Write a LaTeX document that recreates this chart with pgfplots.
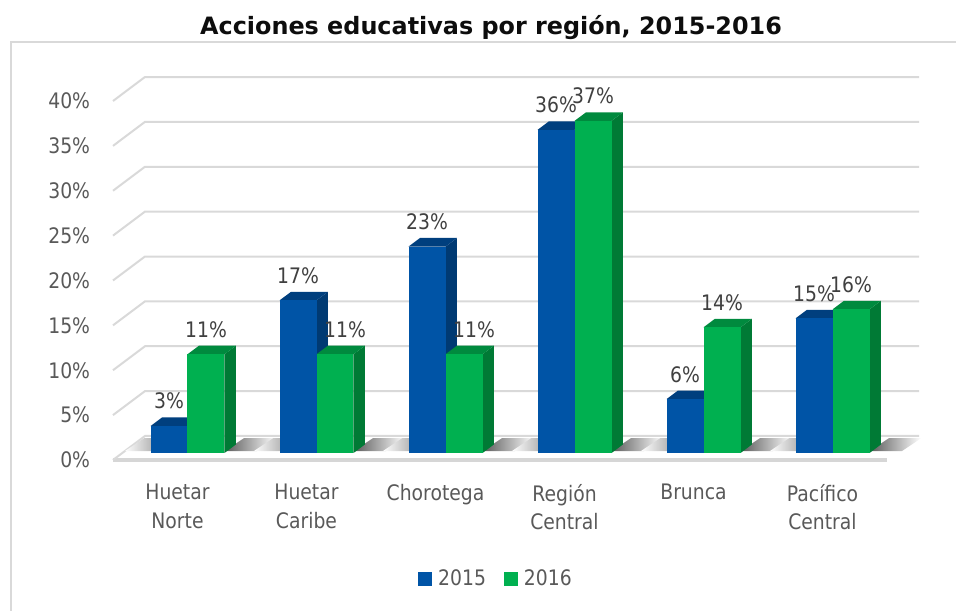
\documentclass[border=0pt]{standalone}
\usepackage{pgfplots}
\pgfplotsset{compat=1.18}
\usepackage{pgfplotstable}
\usepackage{fontspec}
\setmainfont{DejaVu Sans}
\newfontfamily\labfont{DejaVu Sans}[FakeStretch=0.88]
\definecolor{cA}{HTML}{0054A6}
\definecolor{cAtop}{HTML}{003F7E}
\definecolor{cAside}{HTML}{003A73}
\definecolor{cB}{HTML}{00B050}
\definecolor{cBtop}{HTML}{008A3E}
\definecolor{cBside}{HTML}{007A35}
\definecolor{gridc}{HTML}{D9D9D9}
\definecolor{txt}{HTML}{595959}
\definecolor{lab}{HTML}{404040}

% sh16: horizontal shift (axis units) of the 2016 label
\pgfplotstableread{
idx v15 v16 sh16
0 3 11 0
1 17 11 0.0775
2 23 11 0.0775
3 36 37 0
4 6 14 0
5 15 16 0
}\data

\def\ox{0.0775}\def\oy{0.78}\def\bw{0.2868}\def\ddx{0.0891}\def\ddy{0.958}\def\bx{0.248}\def\by{2.674}

\newcommand\barthreeD[5]{%
 \pgfmathsetmacro\xl{#1}%
 \pgfmathsetmacro\xr{\xl+\bw}%
 \pgfmathsetmacro\xlb{\xl+\ddx}%
 \pgfmathsetmacro\xrb{\xr+\ddx}%
 \pgfmathsetmacro\yt{#2+\oy}%
 \pgfmathsetmacro\ytb{\yt+\ddy}%
 \pgfmathsetmacro\ybb{\oy+\ddy}%
 \edef\tmp{%
 \noexpand\addplot[forget plot,draw=none,fill=#5] coordinates {(\xr,\oy) (\xrb,\ybb) (\xrb,\ytb) (\xr,\yt)};
 \noexpand\addplot[forget plot,draw=none,fill=#4] coordinates {(\xl,\yt) (\xr,\yt) (\xrb,\ytb) (\xlb,\ytb)};
 \noexpand\addplot[forget plot,draw=none,fill=#3] coordinates {(\xl,\oy) (\xr,\oy) (\xr,\yt) (\xl,\yt)};
 }\tmp}

\newcommand\shadowpair[1]{%
 \pgfmathsetmacro\sa{#1+\ox-\bw-0.2}%
 \pgfmathsetmacro\sb{#1+\ox-\bw+0.02}%
 \pgfmathsetmacro\sc{#1+\ox+\bw}%
 \pgfmathsetmacro\sd{#1+\ox+\bw+0.25}%
 \pgfmathsetmacro\sat{\sa+0.15}%
 \pgfmathsetmacro\sbt{\sb+0.15}%
 \pgfmathsetmacro\sct{\sc+0.15}%
 \pgfmathsetmacro\sdt{\sd+0.15}%
 \pgfmathsetmacro\ya{\oy+0.2}%
 \pgfmathsetmacro\yb{\by-0.25}%
 \edef\tmp{%
 \noexpand\addplot[forget plot,draw=none,left color=white,right color=black!50] coordinates {(\sa,\ya) (\sb,\ya) (\sbt,\yb) (\sat,\yb)};
 \noexpand\addplot[forget plot,draw=none,left color=black!65,right color=white] coordinates {(\sc,\ya) (\sd,\ya) (\sdt,\yb) (\sct,\yb)};
 }\tmp}

\begin{document}
\begin{tikzpicture}
\useasboundingbox (0,0) rectangle (717pt,457.5pt);
\draw[gridc,line width=1.5pt] (8.25pt,-2pt) -- (8.25pt,426pt) -- (720pt,426pt);
\node[font=\fontsize{17.9}{20}\selectfont\bfseries, anchor=base, text=black!95] at (368.25pt,431.25pt) {Acciones educativas por región, 2015-2016};
\begin{axis}[
 at={(84.75pt,112.5pt)}, anchor=south west,
 scale only axis, width=580.5pt, height=269.25pt,
 xmin=-0.5, xmax=5.5, ymin=0, ymax=40,
 clip=false,
 axis line style={draw=none},
 major tick length=0pt,
 ytick={0,5,...,40},
 yticklabel={\pgfmathprintnumber{\tick}\%},
 xtick={0,...,5},
 xticklabels={{Huetar\\Norte},{Huetar\\Caribe},Chorotega,{Región\\Central},Brunca,{Pacífico\\Central}},
 tick label style={font=\labfont\fontsize{16}{21.4}\selectfont, text=txt},
 yticklabel style={anchor=east, inner sep=0pt, xshift=-17pt},
 xticklabel style={anchor=north, inner sep=0pt, yshift=-18pt, align=center},
 /pgf/number format/assume math mode=true,
 legend style={at={(0.4935,-0.3315)}, anchor=center, draw=none, fill=none, legend columns=2,
   font=\labfont\fontsize{16}{19}\selectfont, text=txt, nodes={inner sep=0pt},
   /tikz/every odd column/.append style={column sep=4.5pt},
   /tikz/every even column/.append style={column sep=13.5pt}},
 legend image code/.code={\fill[#1,draw=none] (0pt,-5.25pt) rectangle (10.5pt,5.25pt);},
]
% grid lines on back wall and left wall
\pgfplotsinvokeforeach{5,10,...,40}{
 \draw[gridc,line width=1.5pt] (axis cs:-0.5,#1) -- (axis cs:-0.5+\bx,#1+\by) -- (axis cs:5.5+\bx,#1+\by);
}
% floor
\draw[black!16,line width=2.6pt] (axis cs:-0.5,0) -- (axis cs:5.5,0);
\draw[gridc,line width=1.5pt] (axis cs:-0.5,0) -- (axis cs:-0.5+\bx,\by) -- (axis cs:5.5+\bx,\by);
% shadows
\pgfplotsforeachungrouped \i in {0,...,5}{\shadowpair{\i}}
% bars
\pgfplotsforeachungrouped \i in {0,...,5}{%
 \pgfplotstablegetelem{\i}{v15}\of\data \let\vA\pgfplotsretval
 \pgfplotstablegetelem{\i}{v16}\of\data \let\vB\pgfplotsretval
 \pgfmathsetmacro\xA{\i+\ox-\bw}%
 \pgfmathsetmacro\xB{\i+\ox}%
 \barthreeD{\xA}{\vA}{cA}{cAtop}{cAside}%
 \barthreeD{\xB}{\vB}{cB}{cBtop}{cBside}%
}
% value labels
\addplot[forget plot, draw=none, nodes near coords={\pgfmathprintnumber{\pgfplotspointmeta}\%}, point meta=\thisrow{v15},
 nodes near coords style={anchor=base, inner sep=0pt, yshift=6.4pt, text=lab, font=\labfont\fontsize{16}{19}\selectfont}]
 table[x expr=\thisrow{idx}+\ox-\bw/2, y expr=\thisrow{v15}+\oy+\ddy]{\data};
\addplot[forget plot, draw=none, nodes near coords={\pgfmathprintnumber{\pgfplotspointmeta}\%}, point meta=\thisrow{v16},
 nodes near coords style={anchor=base, inner sep=0pt, yshift=6.4pt, text=lab, font=\labfont\fontsize{16}{19}\selectfont}]
 table[x expr=\thisrow{idx}+\ox+\bw/2+\thisrow{sh16}, y expr=\thisrow{v16}+\oy+\ddy]{\data};
\addlegendimage{fill=cA,draw=none}
\addlegendentry{2015}
\addlegendimage{fill=cB,draw=none}
\addlegendentry{2016}
\end{axis}
\end{tikzpicture}
\end{document}
